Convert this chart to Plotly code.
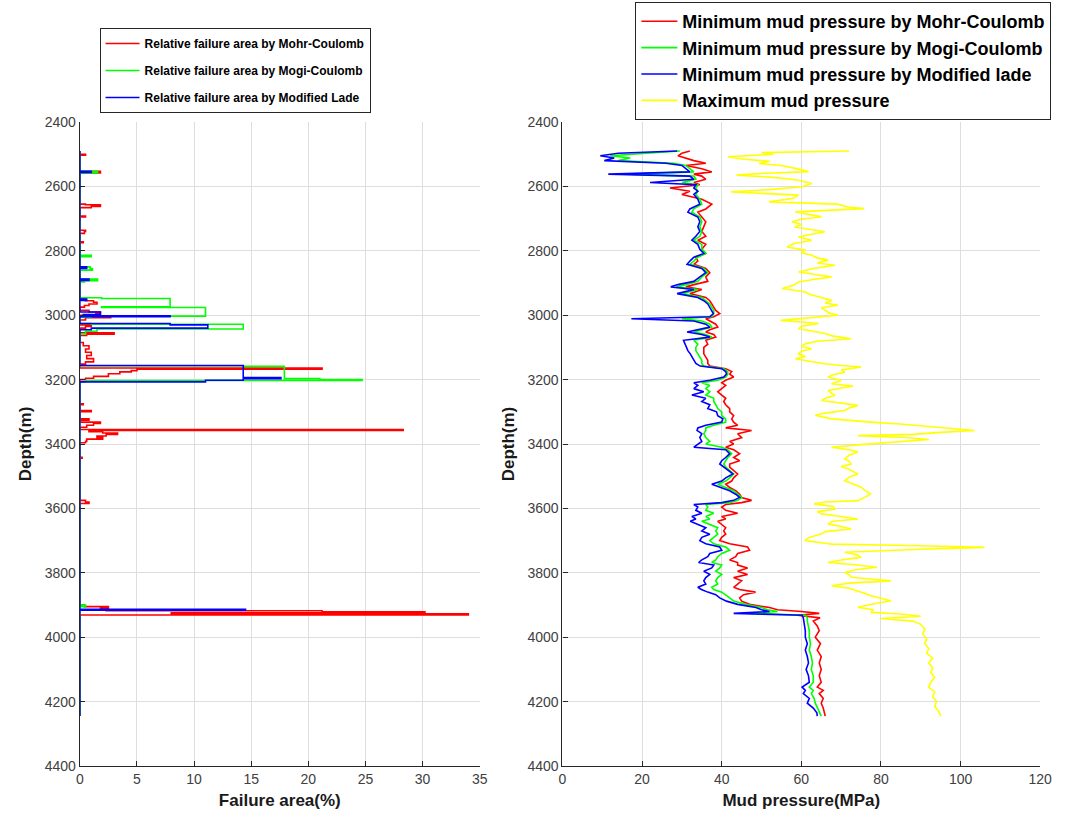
import plotly.graph_objects as go

# ---------------- Left panel: relative failure area (piece-wise constant logs) -------------
mc_fa_depth = [2490, 2500, 2503, 2553, 2558, 2655, 2657, 2662, 2666, 2692, 2695, 2736, 2740, 2746,
               2772, 2775, 2891, 2894, 2950, 2955, 2960, 2965, 2970, 2975, 2985, 2990, 2995, 3000,
               3004, 3008, 3015, 3030, 3035, 3040, 3055, 3059, 3063, 3085, 3095, 3105, 3115, 3125,
               3135, 3145, 3152, 3164, 3168, 3172, 3176, 3182, 3190, 3196, 3200, 3275, 3278, 3296,
               3300, 3322, 3326, 3332, 3336, 3342, 3348, 3355, 3358, 3362, 3366, 3370, 3375, 3380,
               3385, 3392, 3396, 3441, 3444, 3575, 3580, 3585, 3900, 3905, 3910, 3915, 3918, 3921,
               3924, 3927, 3931, 4245]
mc_fa_value = [0, 0.5, 0, 1.8, 0, 0.5, 1.8, 1.0, 0, 0.5, 0, 0.5, 0.4, 0,
               0.3, 0, 0.3, 0, 0.5, 1.2, 1.5, 0.8, 0.4, 0, 0.8, 1.8, 1.4, 0,
               2.7, 0.5, 0, 1.0, 0.5, 0, 3.0, 0.6, 0, 0.3, 0.8, 0.5, 1.0, 0.6,
               1.2, 0.5, 0, 21.2, 5.0, 4.5, 3.5, 2.5, 1.2, 0.5, 0, 0.3, 0, 1.0,
               0, 0.8, 0, 1.8, 1.2, 0.6, 0, 28.3, 0.8, 2.0, 3.3, 2.3, 1.5, 2.0,
               0.6, 0.5, 0, 0.2, 0, 0.5, 0.8, 0, 0.4, 2.5, 1.8, 2.3, 21.2, 30.2,
               8.0, 34.0, 0, 0]

mogi_fa_depth = [2490, 2553, 2558, 2814, 2818, 2850, 2855, 2860, 2888, 2893, 2897, 2946, 2948,
                 2974, 2976, 3003, 3006, 3026, 3028, 3043, 3050, 3058, 3157, 3159, 3197, 3200,
                 3203, 3207, 3900, 3905, 4245]
mogi_fa_value = [0, 1.55, 0, 1.0, 0, 0.9, 1.1, 0, 1.55, 0.4, 0, 1.9, 7.9,
                 1.9, 11.0, 1.0, 0, 1.0, 14.3, 1.5, 0.5, 0, 14.3, 17.9, 21.0, 24.7,
                 0.5, 0, 0.5, 0, 0]

ml_fa_depth = [2490, 2553, 2557, 2850, 2855, 2888, 2892, 2950, 2954, 2990, 2998, 3002, 3005,
               3026, 3030, 3040, 3045, 3156, 3194, 3197, 3202, 3207, 3913, 3916, 4245]
ml_fa_value = [0, 1.0, 0, 0.6, 0, 0.8, 0, 0.6, 0, 1.8, 0.3, 7.9, 0,
               7.9, 11.2, 1.0, 0, 14.3, 17.6, 14.3, 11.0, 0, 14.5, 0, 0]

# ---------------- Right panel: mud pressure window -------------
depth_min = [2490, 2497, 2505, 2512, 2520, 2528, 2535, 2545, 2555, 2562,
             2568, 2578, 2588, 2595, 2605, 2615, 2625, 2640, 2655, 2670,
             2680, 2695, 2710, 2725, 2740, 2755, 2767, 2780, 2795, 2808,
             2820, 2832, 2842, 2855, 2868, 2881, 2895, 2905, 2912, 2920,
             2933, 2945, 2955, 2965, 2975, 2985, 2995, 3005, 3011, 3018,
             3028, 3037, 3045, 3052, 3060, 3068, 3078, 3090, 3100, 3110,
             3120, 3130, 3140, 3150, 3158, 3166, 3175, 3183, 3192, 3202,
             3210, 3218, 3228, 3238, 3248, 3258, 3268, 3278, 3290, 3300,
             3312, 3322, 3332, 3342, 3350, 3358, 3368, 3380, 3392, 3400,
             3410, 3418, 3430, 3442, 3452, 3462, 3472, 3482, 3493, 3505,
             3515, 3525, 3535, 3545, 3556, 3566, 3575, 3582, 3588, 3596,
             3606, 3615, 3625, 3633, 3640, 3650, 3660, 3670, 3680, 3690,
             3700, 3710, 3720, 3730, 3740, 3750, 3760, 3768, 3776, 3785,
             3795, 3805, 3815, 3825, 3835, 3845, 3852, 3860, 3868, 3878,
             3888, 3898, 3908, 3915, 3920, 3926, 3932, 3940, 3950, 3965,
             3980, 4000, 4020, 4040, 4060, 4080, 4100, 4120, 4140, 4155,
             4165, 4175, 4190, 4205, 4220, 4235, 4245]

min_mc = [32, 30, 29, 31, 33, 36, 31, 35, 37.5, 33,
          35, 36, 33, 34.5, 27, 32, 30, 35, 37.5, 36,
          34, 35, 36, 35.5, 35, 36, 34, 36, 35, 36,
          33.5, 34, 33, 36, 37, 36, 36.5, 33, 31, 35,
          32, 36, 37, 37.5, 38, 38.5, 39.5, 38, 36, 37,
          38.5, 39, 37, 36, 38, 38.5, 36, 36.5, 35.5, 35.5,
          35.5, 36, 36.5, 36.5, 37, 41, 42.5, 42, 43, 41,
          40, 41, 40, 39, 40, 41, 40.5, 41, 42, 42,
          43, 42.5, 43, 44, 41, 47.5, 44, 45, 42, 43,
          41, 43, 44.5, 43, 44.5, 42, 42, 43, 44, 43,
          42.5, 41, 42, 43.5, 44.5, 45, 47.5, 45, 41, 40,
          41, 44, 40, 41, 39, 40, 41, 40.5, 41, 40,
          39.5, 42, 46.5, 47, 44, 43.5, 42, 44, 44, 46.5,
          44, 46.5, 43, 45, 44, 43, 44.5, 48.5, 45.5, 44.5,
          45, 47, 52, 54, 60, 64.5, 59, 64.7, 63, 64,
          64.5, 63.5, 64.8, 64, 65, 64.5, 65, 64.5, 65, 64,
          65.5, 64.5, 65.5, 65, 65.5, 65.8, 66]

min_mogi = [29.5, 20, 12, 17, 14, 28, 31, 32, 33, 16,
            33, 33.5, 30, 34, 33.5, 34, 33.5, 34.5, 35, 33,
            32.5, 34.5, 35, 34.5, 35, 34.5, 33, 35, 35, 36,
            34, 33, 32, 35.5, 36.5, 35, 34, 31, 28.5, 34,
            30, 35, 36, 37, 37.5, 38, 38, 37.5, 30, 35,
            37, 37.5, 35, 33, 36, 37.5, 33, 34, 33.5, 33.5,
            34, 34.5, 35, 35, 35.5, 40.5, 41.5, 41.5, 41, 39,
            35, 37, 36, 37, 36, 38, 38, 38.5, 39, 40,
            40, 41, 41, 38, 36, 36, 35.5, 36, 37, 36,
            40, 41.5, 42.5, 41.5, 41, 40.5, 41, 42, 43, 42,
            41, 39, 41, 43, 44, 45, 44, 42, 36, 36.5,
            36, 38, 36, 37, 35, 37, 39, 38.5, 39, 38,
            37, 38, 41, 42, 40, 39, 38.5, 37.5, 40, 39.5,
            38.5, 40, 39, 38.5, 39, 37.5, 38, 40, 41, 42,
            43, 46, 50, 51.5, 54, 47, 61, 61.5, 61.5, 61.8,
            62, 62, 62.3, 62, 62.5, 62.8, 62.5, 63, 63, 62,
            63, 62.5, 63.2, 63.5, 64, 64.5, 65]

min_ml = [28.8, 14, 9.5, 13, 10.5, 26, 30, 31, 32, 11.5,
          32, 33, 22, 33.5, 33, 34, 33, 34, 34.5, 32,
          31.5, 34, 34.5, 34, 34.5, 33.5, 32.5, 34, 34.5, 35.5,
          33, 32, 31.3, 35, 36, 34.5, 33, 29, 27.2, 33,
          28.8, 34, 35.5, 36.5, 37, 37.5, 37.9, 37, 17.3, 33,
          36, 37, 34, 31.3, 35, 37, 30.4, 30.8, 31, 31.5,
          32.1, 32.5, 33, 33.5, 34.6, 40, 41, 41.2, 40.5, 37,
          33, 34, 33, 35.5, 32.5, 36, 35, 37, 36.5, 38.7,
          39, 40.3, 40, 36, 34, 33.8, 35, 34.5, 35, 34,
          33, 41, 42, 41, 40, 39.5, 40.5, 41.5, 42.8, 41,
          40, 37.5, 40, 42, 43.5, 44.5, 43, 40, 33, 34,
          33.5, 35, 32.5, 33.5, 32.1, 34, 36, 35, 37, 35,
          34.5, 36, 39.5, 40, 37, 36.5, 35, 34.2, 38, 37.5,
          35.5, 37, 36, 35.5, 36, 34, 34.9, 36.5, 38.5, 39.5,
          41.2, 44, 48.6, 50, 52, 43, 60.2, 60.5, 60.6, 60.8,
          61, 61, 61.5, 61, 61.5, 61.8, 61.2, 61.8, 62, 60.2,
          61, 60.5, 62, 61.5, 63, 63.9, 64]

depth_max = [2490, 2495, 2500, 2508, 2515, 2522, 2529, 2535, 2544, 2554,
             2560, 2565, 2572, 2580, 2591, 2601, 2610, 2617, 2627, 2637,
             2648, 2655, 2665, 2669, 2679, 2688, 2694, 2702, 2710, 2718,
             2726, 2733, 2741, 2750, 2757, 2767, 2778, 2788, 2798, 2806,
             2814, 2822, 2829, 2838, 2845, 2855, 2866, 2873, 2881, 2889,
             2897, 2907, 2917, 2928, 2935, 2943, 2954, 2962, 2969, 2977,
             2985, 2993, 3000, 3008, 3016, 3021, 3026, 3034, 3042, 3050,
             3057, 3065, 3073, 3081, 3089, 3097, 3104, 3112, 3120, 3128,
             3135, 3143, 3151, 3156, 3161, 3170, 3177, 3185, 3192, 3203,
             3213, 3220, 3234, 3249, 3258, 3265, 3272, 3280, 3288, 3296,
             3304, 3311, 3322, 3327, 3332, 3337, 3342, 3350, 3358, 3364,
             3370, 3374, 3380, 3386, 3394, 3402, 3410, 3418, 3425, 3435,
             3446, 3454, 3462, 3470, 3477, 3485, 3493, 3503, 3514, 3524,
             3534, 3545, 3555, 3565, 3576, 3580, 3586, 3594, 3602, 3610,
             3617, 3625, 3633, 3640, 3648, 3656, 3664, 3672, 3679, 3690,
             3700, 3708, 3711, 3716, 3721, 3727, 3736, 3744, 3752, 3760,
             3768, 3776, 3783, 3790, 3799, 3806, 3814, 3820, 3825, 3832,
             3840, 3848, 3856, 3864, 3871, 3879, 3887, 3897, 3907, 3915,
             3923, 3928, 3935, 3942, 3950, 3960, 3975, 3990, 4005, 4020,
             4035, 4050, 4065, 4080, 4095, 4110, 4125, 4140, 4155, 4170,
             4185, 4200, 4215, 4230, 4245]

max_mud = [72, 50, 53, 41.6, 45, 52, 49.4, 55, 58.5, 61.8,
           50, 43.7, 53, 59, 62.6, 60.2, 52, 42.4, 59.3, 58,
           51.9, 69, 72, 75.8, 58.5, 62, 65.1, 60, 57.7, 60,
           58.3, 62, 65.9, 62, 59.3, 62.6, 58, 56.4, 61, 60,
           62.6, 64, 66.7, 64, 68.4, 63, 59.3, 63, 67.6, 63,
           59.3, 58, 55.2, 61, 62, 64.3, 67.6, 66, 69.2, 65,
           65.9, 67, 69.2, 62, 54.8, 60, 64.3, 60, 59.3, 63,
           65.9, 68, 72.5, 64, 61, 60, 62.6, 60, 59.3, 61,
           58.5, 62, 65.9, 70, 75, 70, 70.9, 68, 66.7, 70,
           67.6, 73, 66.7, 68.4, 66, 65.1, 70, 74.2, 72, 70.9,
           66, 63.5, 67.6, 72, 77.5, 84, 89, 95, 103.5, 95,
           88, 74.2, 86, 92, 82.5, 75, 67.6, 72, 74.2, 72,
           70.9, 72, 72.5, 70, 71.7, 73, 74.2, 72, 70.9, 73,
           75, 76, 77.5, 76, 74.2, 66, 63.2, 68, 68.4, 64,
           65.1, 70, 74.2, 68, 66.7, 70, 72.5, 66, 65.1, 62,
           60.9, 66, 67.6, 90, 106, 90, 70.9, 74, 75, 70,
           66.7, 74, 79, 74, 70.9, 72, 72.5, 78, 82.5, 72,
           67.6, 72, 74.2, 76, 77.5, 80, 82.5, 78, 74.2, 78,
           77.5, 85, 90, 80, 88, 90, 91, 90.5, 91.5, 91,
           92, 91.5, 93, 92, 93, 92.5, 93.5, 92.5, 92, 93.5,
           93, 94, 93.5, 94.5, 95]

depth_ticks = [2400, 2600, 2800, 3000, 3200, 3400, 3600, 3800, 4000, 4200, 4400]
fa_ticks = [0, 5, 10, 15, 20, 25, 30, 35]
mud_ticks = [0, 20, 40, 60, 80, 100, 120]

RED, GREEN, BLUE, YELLOW = "#ff0000", "#00ff00", "#0000ff", "#ffff00"
FONT = "Liberation Sans, Arial, sans-serif"

fig = go.Figure()

# left panel
for i, (name, d, v, c) in enumerate([
    ("Relative failure area by Mohr-Coulomb", mc_fa_depth, mc_fa_value, RED),
    ("Relative failure area by Mogi-Coulomb", mogi_fa_depth, mogi_fa_value, GREEN),
    ("Relative failure area by Modified Lade", ml_fa_depth, ml_fa_value, BLUE),
]):
    fig.add_trace(go.Scatter(x=v, y=d, mode="lines", name=name,
                             line=dict(color=c, width=1.6, shape="vh"),
                             legendgroup=f"L{i}",
                             xaxis="x", yaxis="y", legend="legend"))

# right panel
for i, (name, d, v, c) in enumerate([
    ("Minimum mud pressure by Mohr-Coulomb", depth_min, min_mc, RED),
    ("Minimum mud pressure by Mogi-Coulomb", depth_min, min_mogi, GREEN),
    ("Minimum mud pressure by Modified lade", depth_min, min_ml, BLUE),
    ("Maximum mud pressure", depth_max, max_mud, YELLOW),
]):
    fig.add_trace(go.Scatter(x=v, y=d, mode="lines", name=name,
                             line=dict(color=c, width=1.6),
                             legendgroup=f"R{i}",
                             xaxis="x2", yaxis="y2", legend="legend2"))

axis_common = dict(
    showline=True, linecolor="#262626", linewidth=1.3, mirror=False,
    ticks="inside", ticklen=5, tickcolor="#262626",
    showgrid=True, gridcolor="#dedede", gridwidth=1, zeroline=False,
    tickfont=dict(family=FONT, size=14, color="#404040"),
)
title_font = dict(family=FONT, size=17, color="#1a1a1a", weight="bold")

fig.update_layout(
    width=1065, height=826,
    margin=dict(l=0, r=0, t=122, b=60),
    paper_bgcolor="white", plot_bgcolor="white",
    font=dict(family=FONT),
    xaxis=dict(domain=[77 / 1065, 483 / 1065], range=[0, 35], tickvals=fa_ticks,
               title=dict(text="Failure area(%)", font=title_font, standoff=8),
               anchor="y", **axis_common),
    yaxis=dict(domain=[0, 1], range=[4400, 2400], tickvals=depth_ticks,
               title=dict(text="Depth(m)", font=title_font, standoff=8),
               anchor="x", **axis_common),
    xaxis2=dict(domain=[567 / 1065, 1052 / 1065], range=[0, 120], tickvals=mud_ticks,
                title=dict(text="Mud pressure(MPa)", font=title_font, standoff=8),
                anchor="y2", **axis_common),
    yaxis2=dict(domain=[0, 1], range=[4400, 2400], tickvals=depth_ticks,
                title=dict(text="Depth(m)", font=title_font, standoff=8),
                anchor="x2", **axis_common),
    legend=dict(x=97 / 1065, y=(766 - 28) / 644, xanchor="left", yanchor="top",
                bgcolor="white", bordercolor="#262626", borderwidth=1,
                tracegroupgap=8, itemwidth=34,
                font=dict(family=FONT, size=12, color="black", weight="bold")),
    legend2=dict(x=641 / 1065, y=(766 - 2) / 644, xanchor="left", yanchor="top",
                 bgcolor="white", bordercolor="#262626", borderwidth=1,
                 tracegroupgap=0, itemwidth=36,
                 font=dict(family=FONT, size=18, color="black", weight="bold")),
)

fig.write_html("out.html")
